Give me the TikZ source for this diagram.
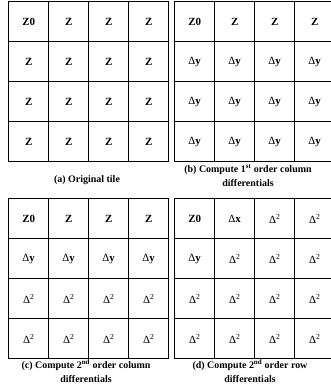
\documentclass[tikz,border=0pt]{standalone}
\usepackage{fontspec}
\setmainfont{Liberation Serif}
\newcommand\DelY{{\mdseries Δ}y}
\newcommand\DelX{{\mdseries Δ}x}
\newcommand\DelSq{{\mdseries Δ\textsuperscript{2}}}
\tikzset{
  cell/.style={draw, line width=1.4bp, minimum width=40bp, minimum height=40bp,
    inner sep=0pt, anchor=north west, font=\bfseries\fontsize{11}{13}\selectfont},
  captext/.style={font=\bfseries\fontsize{10}{14}\selectfont, align=center, inner sep=0pt}
}
\newcommand\mkrow[4]{%
  \foreach \t [count=\i from 0] in {#4} {\node[cell] (#1-\i) at (#2+40*\i, #3) {\t};}%
}
\begin{document}
\begin{tikzpicture}[x=1bp, y=-1bp]
\useasboundingbox (0,0) rectangle (331,387);
% grid a
\mkrow{a1}{8}{1}{Z0,Z,Z,Z}
\mkrow{a2}{8}{41}{Z,Z,Z,Z}
\mkrow{a3}{8}{81}{Z,Z,Z,Z}
\mkrow{a4}{8}{121}{Z,Z,Z,Z}
% grid b
\mkrow{b1}{174}{1}{Z0,Z,Z,Z}
\mkrow{b2}{174}{41}{\DelY,\DelY,\DelY,\DelY}
\mkrow{b3}{174}{81}{\DelY,\DelY,\DelY,\DelY}
\mkrow{b4}{174}{121}{\DelY,\DelY,\DelY,\DelY}
% grid c
\mkrow{c1}{8}{198}{Z0,Z,Z,Z}
\mkrow{c2}{8}{238}{\DelY,\DelY,\DelY,\DelY}
\mkrow{c3}{8}{278}{\DelSq,\DelSq,\DelSq,\DelSq}
\mkrow{c4}{8}{318}{\DelSq,\DelSq,\DelSq,\DelSq}
% grid d
\mkrow{d1}{174}{198}{Z0,\DelX,\DelSq,\DelSq}
\mkrow{d2}{174}{238}{\DelY,\DelSq,\DelSq,\DelSq}
\mkrow{d3}{174}{278}{\DelSq,\DelSq,\DelSq,\DelSq}
\mkrow{d4}{174}{318}{\DelSq,\DelSq,\DelSq,\DelSq}
% captions
\node[captext] (capa) at (87,180) {(a) Original tile};
\node[captext] (capb) at (248,175.5) {(b) Compute 1\textsuperscript{st} order column\\differentials};
\node[captext] (capc) at (86,371) {(c) Compute 2\textsuperscript{nd} order column\\differentials};
\node[captext] (capd) at (250,371) {(d) Compute 2\textsuperscript{nd} order row\\differentials};
\end{tikzpicture}
\end{document}
